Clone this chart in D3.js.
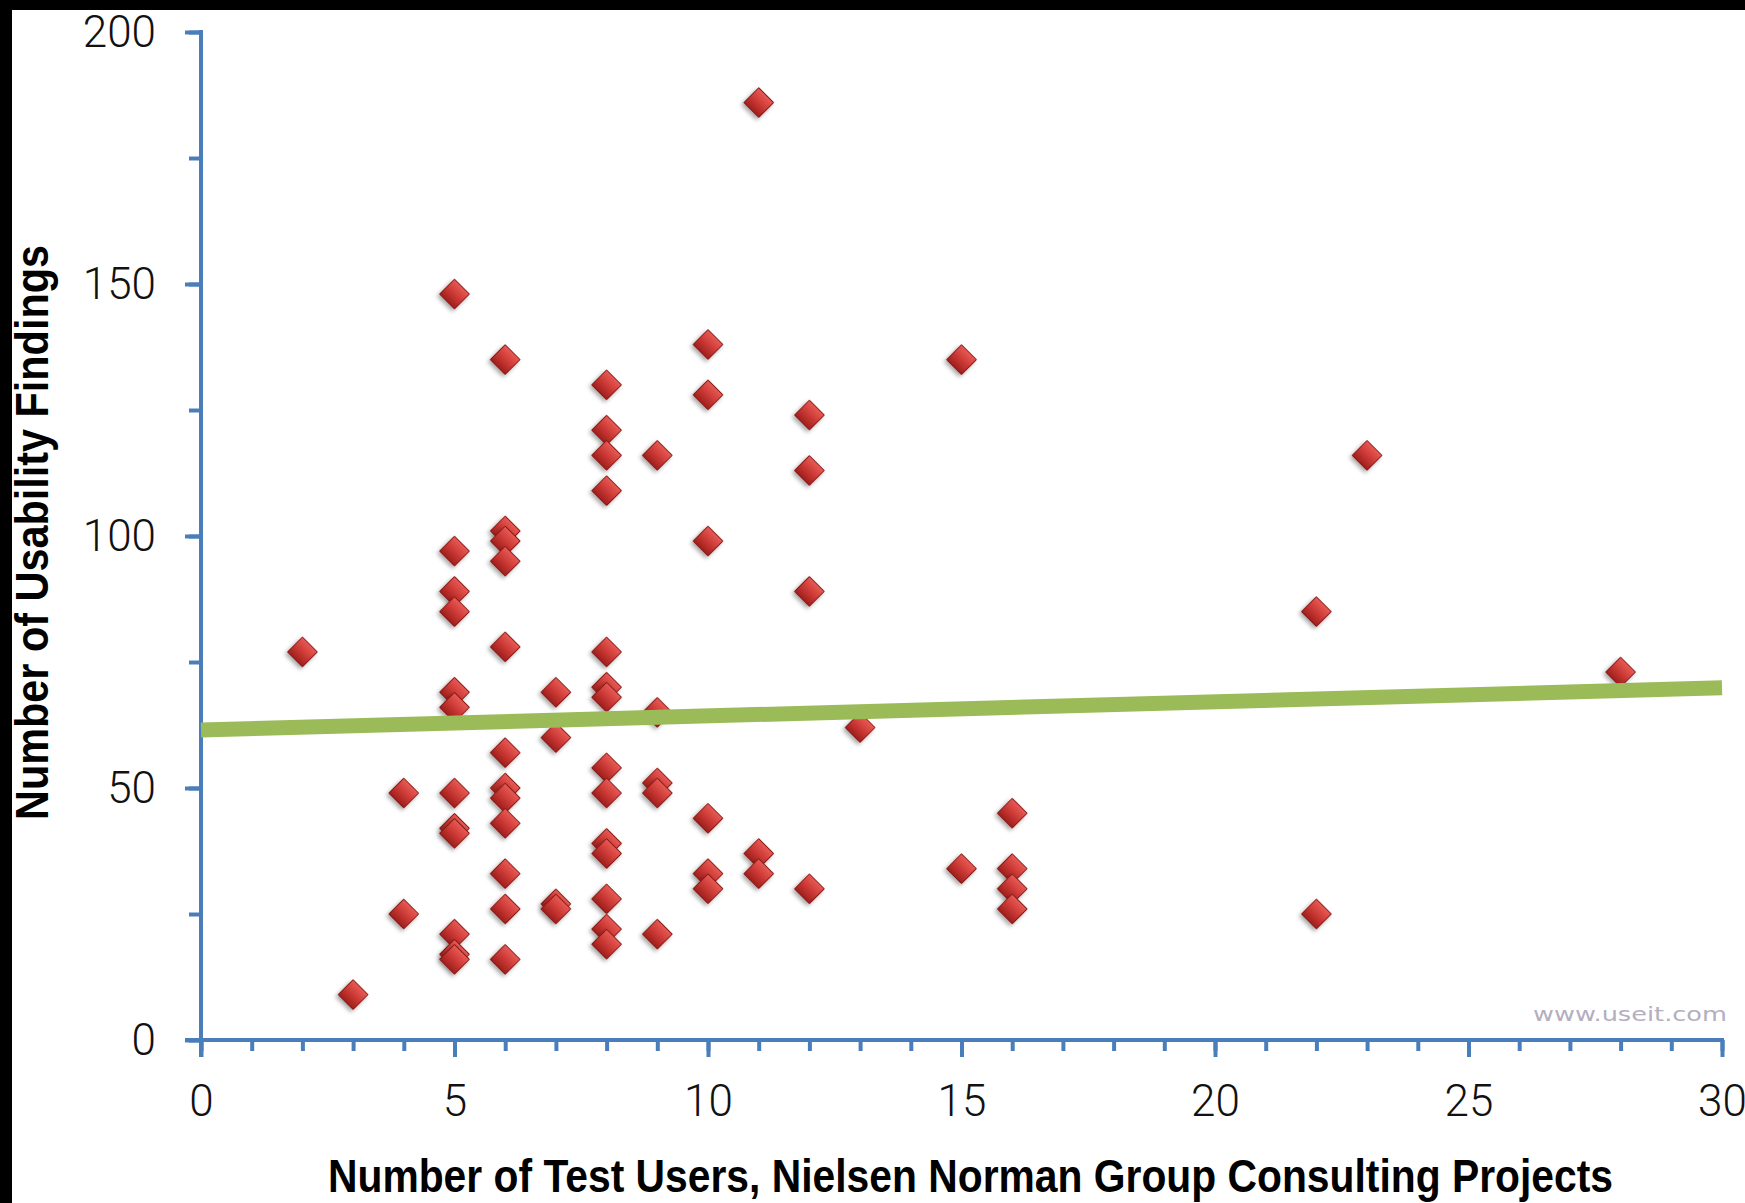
<!DOCTYPE html>
<html>
<head>
<meta charset="utf-8">
<script src="https://cdn.jsdelivr.net/npm/d3@7"></script>
<style>
  body { margin: 0; background: #fff; }
  svg { display: block; }
</style>
</head>
<body>
<div id="chart"></div>
<script>
// test users per project (x) and the findings counted in those projects (y)
const userCounts = [2, 3, 4, 5, 6, 7, 8, 9, 10, 11, 12, 13, 15, 16, 22, 23, 28];
const findingsByUsers = [
  [77],
  [9],
  [49, 25],
  [148, 97, 89, 85, 69, 66, 49, 42, 41, 21, 17, 16],
  [135, 101, 99, 95, 78, 57, 50, 48, 43, 33, 26, 16],
  [69, 60, 27, 26],
  [130, 121, 116, 109, 77, 70, 68, 54, 49, 39, 37, 28, 22, 19],
  [116, 65, 51, 49, 21],
  [138, 128, 99, 44, 33, 30],
  [186, 37, 33],
  [124, 113, 89, 30],
  [62],
  [135, 34],
  [45, 34, 30, 26],
  [85, 25],
  [116],
  [73]
];
// linear trend read at x = 0 and x = 30
const trendX = [0, 30];
const trendY = [61.5, 69.9];

const xMajor = [0, 5, 10, 15, 20, 25, 30];
const yMajor = [0, 50, 100, 150, 200];

const W = 1745, H = 1203;
const plotLeft = 201, plotRight = 1722, plotTop = 32, plotBottom = 1040;

const points = [];
userCounts.forEach((u, i) => findingsByUsers[i].forEach(f => points.push([u, f])));

const svg = d3.select('#chart').append('svg')
  .attr('width', W)
  .attr('height', H);

svg.append('rect').attr('width', W).attr('height', H).attr('fill', '#fff');

const defs = svg.append('defs');
const grad = defs.append('linearGradient')
  .attr('id', 'dia')
  .attr('x1', 0).attr('y1', 0).attr('x2', 0).attr('y2', 1);
grad.append('stop').attr('offset', '0%').attr('stop-color', '#e85a55');
grad.append('stop').attr('offset', '50%').attr('stop-color', '#cc3a36');
grad.append('stop').attr('offset', '100%').attr('stop-color', '#9e1f1c');

const shadow = defs.append('filter').attr('id', 'shadow')
  .attr('x', '-50%').attr('y', '-50%').attr('width', '200%').attr('height', '200%');
shadow.append('feDropShadow')
  .attr('dx', 0).attr('dy', 3)
  .attr('stdDeviation', 2.2)
  .attr('flood-color', '#000')
  .attr('flood-opacity', 0.35);

const x = d3.scaleLinear().domain([0, 30]).range([plotLeft, plotRight]);
const y = d3.scaleLinear().domain([0, 200]).range([plotBottom, plotTop]);

const axisColor = '#4a7ebb';
const tickFont = 'Roboto, Liberation Sans, Arial, sans-serif';

// minor ticks
svg.append('g')
  .attr('transform', `translate(0, ${plotBottom})`)
  .call(d3.axisBottom(x).tickValues(d3.range(0, 31)).tickSize(11).tickSizeOuter(0).tickFormat(''))
  .call(g => g.select('.domain').remove())
  .call(g => g.selectAll('line').attr('stroke', axisColor).attr('stroke-width', 4));

svg.append('g')
  .attr('transform', `translate(${plotLeft}, 0)`)
  .call(d3.axisLeft(y).tickValues(d3.range(0, 201, 25)).tickSize(12).tickSizeOuter(0).tickFormat(''))
  .call(g => g.select('.domain').remove())
  .call(g => g.selectAll('line').attr('stroke', axisColor).attr('stroke-width', 4));

// major ticks + labels
const xAxis = svg.append('g')
  .attr('transform', `translate(0, ${plotBottom})`)
  .call(d3.axisBottom(x).tickValues(xMajor).tickSize(17).tickSizeOuter(0).tickPadding(28));
xAxis.select('.domain').remove();
xAxis.selectAll('line').attr('stroke', axisColor).attr('stroke-width', 4);
xAxis.selectAll('text')
  .style('font-family', tickFont)
  .style('font-size', '44px')
  .style('font-weight', 300)
  .attr('fill', '#111');

const yAxis = svg.append('g')
  .attr('transform', `translate(${plotLeft}, 0)`)
  .call(d3.axisLeft(y).tickValues(yMajor).tickSize(16).tickSizeOuter(0).tickPadding(29));
yAxis.select('.domain').remove();
yAxis.selectAll('line').attr('stroke', axisColor).attr('stroke-width', 4);
yAxis.selectAll('text')
  .style('font-family', tickFont)
  .style('font-size', '44px')
  .style('font-weight', 300)
  .attr('fill', '#111');

// axis lines
svg.append('line')
  .attr('x1', plotLeft - 16).attr('x2', plotRight + 2)
  .attr('y1', plotBottom).attr('y2', plotBottom)
  .attr('stroke', axisColor).attr('stroke-width', 4);
svg.append('line')
  .attr('x1', plotLeft).attr('x2', plotLeft)
  .attr('y1', plotTop - 2).attr('y2', plotBottom + 17)
  .attr('stroke', axisColor).attr('stroke-width', 4);

// markers
const diamond = d3.symbol().type(d3.symbolSquare).size(440);
svg.append('g')
  .selectAll('path')
  .data(points)
  .enter()
  .append('path')
  .attr('d', diamond)
  .attr('transform', d => `translate(${x(d[0])}, ${y(d[1])}) rotate(45)`)
  .attr('fill', 'url(#dia)')
  .attr('stroke', '#8a1a18')
  .attr('stroke-width', 1)
  .attr('filter', 'url(#shadow)');

// trend line over the markers
svg.append('line')
  .attr('x1', x(trendX[0])).attr('y1', y(trendY[0]))
  .attr('x2', x(trendX[1])).attr('y2', y(trendY[1]))
  .attr('stroke', '#9bbb59')
  .attr('stroke-width', 15);

// titles
svg.append('text')
  .attr('x', 328)
  .attr('y', 1192)
  .attr('textLength', 1285)
  .attr('lengthAdjust', 'spacingAndGlyphs')
  .style('font-family', 'Liberation Sans, Arial, sans-serif')
  .style('font-size', '47px')
  .style('font-weight', 700)
  .attr('fill', '#000')
  .text('Number of Test Users, Nielsen Norman Group Consulting Projects');

svg.append('text')
  .attr('transform', 'translate(48, 820) rotate(-90)')
  .attr('textLength', 575)
  .attr('lengthAdjust', 'spacingAndGlyphs')
  .style('font-family', 'Liberation Sans, Arial, sans-serif')
  .style('font-size', '47px')
  .style('font-weight', 700)
  .attr('fill', '#000')
  .text('Number of Usability Findings');

svg.append('text')
  .attr('x', 1533)
  .attr('y', 1021)
  .attr('textLength', 194)
  .attr('lengthAdjust', 'spacingAndGlyphs')
  .style('font-family', 'DejaVu Sans, sans-serif')
  .style('font-size', '19px')
  .attr('fill', '#b4aebf')
  .text('www.useit.com');

// black frame edges from the screenshot
svg.append('rect').attr('x', 0).attr('y', 0).attr('width', W).attr('height', 10).attr('fill', '#000');
svg.append('rect').attr('x', 0).attr('y', 0).attr('width', 12).attr('height', H).attr('fill', '#000');
</script>
</body>
</html>
